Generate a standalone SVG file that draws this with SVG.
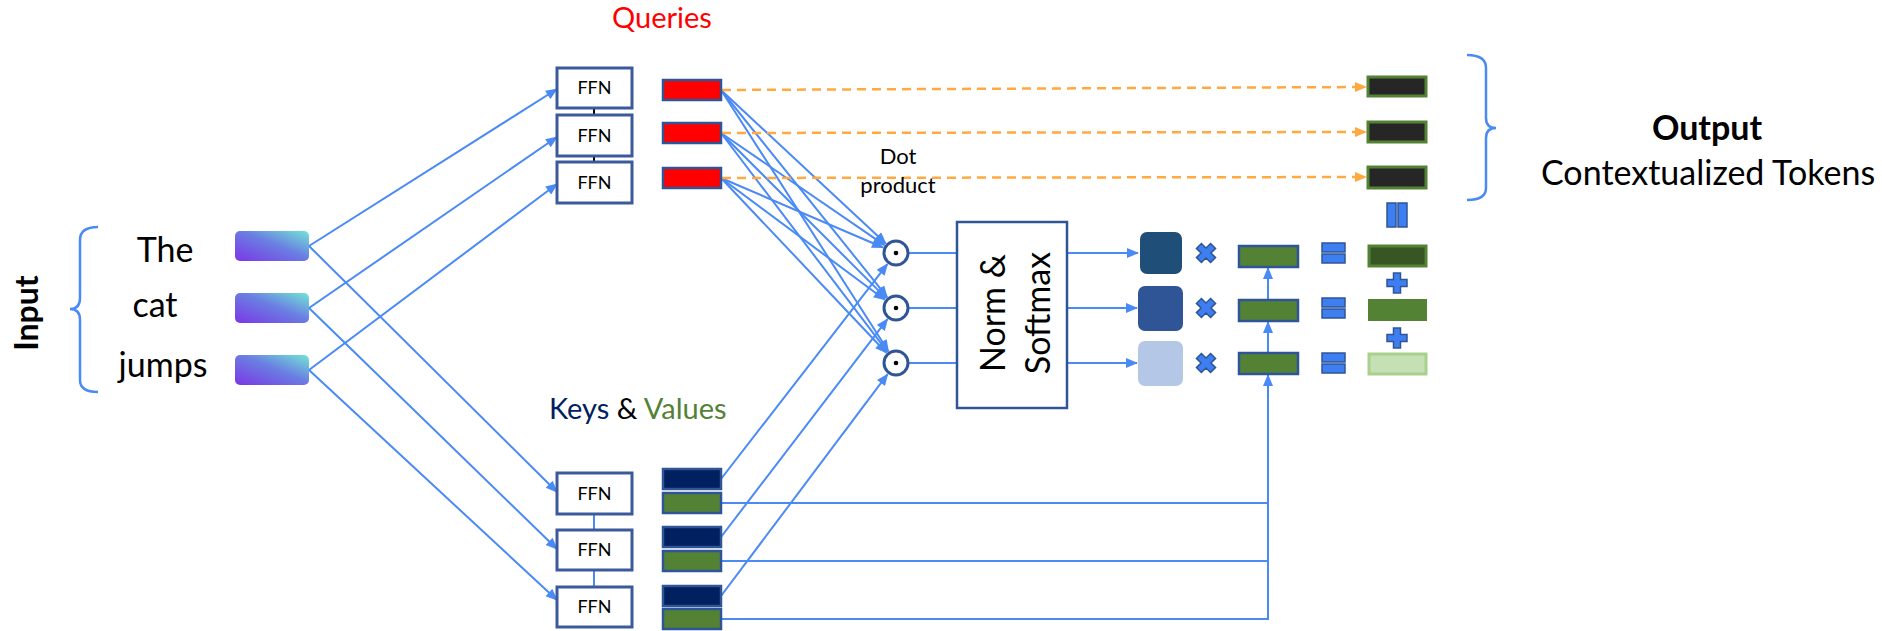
<svg xmlns="http://www.w3.org/2000/svg" width="1882" height="631" viewBox="0 0 1882 631">
<style>
text{font-family:Lato,"Liberation Sans",sans-serif;fill:#000}
.ln{stroke:#4a8af4;stroke-width:2;fill:none}
.arr{marker-end:url(#ah)}
.dash{stroke:#ffa940;stroke-width:2.5;stroke-dasharray:9 6;fill:none;marker-end:url(#ao)}
.ffn{fill:#fff;stroke:#3a5a9c;stroke-width:3}
.ffnt{font-size:18px;text-anchor:middle}
.q{fill:#ff0000;stroke:#2f5597;stroke-width:2.5}
.k{fill:#002060;stroke:#2f5597;stroke-width:2.5}
.v{fill:#548235;stroke:#2f5597;stroke-width:2.5}
.tok{fill:url(#tg)}
.circ{fill:#fff;stroke:#2f5597;stroke-width:3}
.sym{fill:#3d7ff0;stroke:#2f5597;stroke-width:1.5}
.out{fill:#262626;stroke:#548235;stroke-width:3}
.brace{stroke:#4a8af4;stroke-width:2.5;fill:none}
.word{font-size:34px;text-anchor:middle}
</style>
<defs>
<linearGradient id="tg" x1="0" y1="1" x2="1" y2="0">
<stop offset="0" stop-color="#7b36e6"/>
<stop offset="0.55" stop-color="#6a7fe2"/>
<stop offset="1" stop-color="#72e6d6"/>
</linearGradient>
<linearGradient id="lgL" x1="0" y1="0" x2="1" y2="0">
<stop offset="0" stop-color="#4a8af4" stop-opacity="0.4"/>
<stop offset="1" stop-color="#4a8af4"/>
</linearGradient>
<linearGradient id="lgR" x1="0" y1="0" x2="1" y2="0">
<stop offset="0" stop-color="#4a8af4"/>
<stop offset="1" stop-color="#4a8af4" stop-opacity="0"/>
</linearGradient>
<marker id="ah" viewBox="0 0 12 10" markerWidth="13" markerHeight="10" refX="11" refY="5" orient="auto" markerUnits="userSpaceOnUse">
<path d="M0,0 L12,5 L0,10 z" fill="#4a8af4"/>
</marker>
<marker id="ao" viewBox="0 0 12 10" markerWidth="13" markerHeight="10" refX="11" refY="5" orient="auto" markerUnits="userSpaceOnUse">
<path d="M0,0 L12,5 L0,10 z" fill="#ffa940"/>
</marker>
</defs>

<g id="connectors">
<line class="ln arr" x1="309" y1="246" x2="557" y2="89"/>
<line class="ln arr" x1="309" y1="246" x2="557" y2="492"/>
<line class="ln arr" x1="309" y1="308" x2="557" y2="137"/>
<line class="ln arr" x1="309" y1="308" x2="557" y2="549"/>
<line class="ln arr" x1="309" y1="370" x2="557" y2="184"/>
<line class="ln arr" x1="309" y1="370" x2="557" y2="600"/>
<line x1="594" y1="108" x2="594" y2="115" stroke="#000" stroke-width="2"/>
<line x1="594" y1="156" x2="594" y2="162" stroke="#000" stroke-width="2"/>
<line class="ln" x1="594" y1="514" x2="594" y2="530"/>
<line class="ln" x1="594" y1="570" x2="594" y2="587"/>
<line class="ln arr" x1="721" y1="90" x2="885.8" y2="243.5"/>
<line class="ln arr" x1="721" y1="90" x2="887.2" y2="297.1"/>
<line class="ln arr" x1="721" y1="90" x2="888.4" y2="351.2"/>
<line class="ln arr" x1="721" y1="133" x2="884.5" y2="245.1"/>
<line class="ln arr" x1="721" y1="133" x2="886.1" y2="298.1"/>
<line class="ln arr" x1="721" y1="133" x2="887.5" y2="351.9"/>
<line class="ln arr" x1="721" y1="178" x2="883.1" y2="247.5"/>
<line class="ln arr" x1="721" y1="178" x2="884.8" y2="299.7"/>
<line class="ln arr" x1="721" y1="178" x2="886.4" y2="352.8"/>
<line class="ln arr" x1="721" y1="479" x2="887.4" y2="264.1"/>
<line class="ln arr" x1="721" y1="537" x2="887.5" y2="319.1"/>
<line class="ln arr" x1="721" y1="596" x2="887.6" y2="374.2"/>
<line class="ln" x1="909" y1="253" x2="957" y2="253"/>
<line class="ln" x1="909" y1="308" x2="957" y2="308"/>
<line class="ln" x1="909" y1="363" x2="957" y2="363"/>
<line class="ln arr" x1="1068" y1="253" x2="1138" y2="253"/>
<line class="ln arr" x1="1068" y1="308" x2="1137" y2="308"/>
<line class="ln arr" x1="1068" y1="363" x2="1137" y2="363"/>
<polyline class="ln" points="721,503 1268,503"/>
<polyline class="ln" points="721,561 1268,561"/>
<polyline class="ln arr" points="721,619 1268,619 1268,375"/>
<line class="ln arr" x1="1268" y1="353" x2="1268" y2="322"/>
<line class="ln arr" x1="1268" y1="299" x2="1268" y2="268"/>
<line class="dash" x1="722" y1="90" x2="1366" y2="87"/>
<line class="dash" x1="722" y1="133" x2="1366" y2="132"/>
<line class="dash" x1="722" y1="178" x2="1366" y2="177"/>
</g>

<g id="input-brace">
<path class="brace" d="M98,227 Q80,227 80,240 L80,298 Q80,309 70,309 Q80,309 80,320 L80,380 Q80,392 98,392"/>
<line x1="0" y1="309" x2="72" y2="309" stroke="url(#lgL)" stroke-width="2.5"/>
<text transform="translate(38,313) rotate(-90)" text-anchor="middle" font-size="32" font-weight="bold">Input</text>
</g>

<g id="token-the">
<rect class="tok" x="235" y="231" width="74" height="30" rx="5"/>
<text class="word" x="165" y="262">The</text>
</g>
<g id="token-cat">
<rect class="tok" x="235" y="293" width="74" height="30" rx="5"/>
<text class="word" x="155" y="317">cat</text>
</g>
<g id="token-jumps">
<rect class="tok" x="235" y="355" width="74" height="30" rx="5"/>
<text class="word" x="163" y="377">jumps</text>
</g>

<g id="ffn-q1"><rect class="ffn" x="557" y="68" width="75" height="40"/><text class="ffnt" x="594.5" y="94">FFN</text></g>
<g id="ffn-q2"><rect class="ffn" x="557" y="115" width="75" height="41"/><text class="ffnt" x="594.5" y="142">FFN</text></g>
<g id="ffn-q3"><rect class="ffn" x="557" y="162" width="75" height="41"/><text class="ffnt" x="594.5" y="189">FFN</text></g>
<g id="ffn-kv1"><rect class="ffn" x="557" y="473" width="75" height="41"/><text class="ffnt" x="594.5" y="500">FFN</text></g>
<g id="ffn-kv2"><rect class="ffn" x="557" y="530" width="75" height="40"/><text class="ffnt" x="594.5" y="556">FFN</text></g>
<g id="ffn-kv3"><rect class="ffn" x="557" y="587" width="75" height="40"/><text class="ffnt" x="594.5" y="613">FFN</text></g>

<g id="queries">
<text x="662" y="28" font-size="29" text-anchor="middle" style="fill:#ff0000">Queries</text>
<rect class="q" x="663" y="80" width="58" height="20"/>
<rect class="q" x="663" y="123" width="58" height="20"/>
<rect class="q" x="663" y="168" width="58" height="20"/>
</g>

<g id="keys-values">
<text x="549" y="419" font-size="29"><tspan style="fill:#002060">Keys</tspan> &amp; <tspan style="fill:#548235">Values</tspan></text>
<rect class="k" x="663" y="469" width="58" height="20"/>
<rect class="v" x="663" y="493" width="58" height="20"/>
<rect class="k" x="663" y="527" width="58" height="20"/>
<rect class="v" x="663" y="551" width="58" height="20"/>
<rect class="k" x="663" y="586" width="58" height="20"/>
<rect class="v" x="663" y="609" width="58" height="20"/>
</g>

<g id="dot-label">
<text x="898" y="164" font-size="22" text-anchor="middle">Dot</text>
<text x="898" y="193" font-size="22" text-anchor="middle">product</text>
</g>

<g id="dot1"><circle class="circ" cx="896" cy="253" r="12"/><circle cx="896" cy="253" r="2.3" fill="#000"/></g>
<g id="dot2"><circle class="circ" cx="896" cy="308" r="12"/><circle cx="896" cy="308" r="2.3" fill="#000"/></g>
<g id="dot3"><circle class="circ" cx="896" cy="363" r="12"/><circle cx="896" cy="363" r="2.3" fill="#000"/></g>

<g id="norm-softmax">
<rect x="957" y="222" width="110" height="186" fill="#fff" stroke="#2f5597" stroke-width="2.5"/>
<g transform="translate(1012,313) rotate(-90)">
<text x="0" y="-7" font-size="34" text-anchor="middle">Norm &amp;</text>
<text x="0" y="38" font-size="34" text-anchor="middle">Softmax</text>
</g>
</g>

<g id="weights">
<rect x="1140" y="232" width="42" height="42" rx="7" fill="#1f4e79"/>
<rect x="1138" y="286" width="45" height="45" rx="7" fill="#2f5597"/>
<rect x="1138" y="341" width="45" height="45" rx="7" fill="#b4c7e7"/>
</g>

<g id="times">
<path class="sym" transform="translate(1206,253) rotate(45)" d="M-3.5,-10 H3.5 V-3.5 H10 V3.5 H3.5 V10 H-3.5 V3.5 H-10 V-3.5 H-3.5 Z"/>
<path class="sym" transform="translate(1206,308) rotate(45)" d="M-3.5,-10 H3.5 V-3.5 H10 V3.5 H3.5 V10 H-3.5 V3.5 H-10 V-3.5 H-3.5 Z"/>
<path class="sym" transform="translate(1206,363) rotate(45)" d="M-3.5,-10 H3.5 V-3.5 H10 V3.5 H3.5 V10 H-3.5 V3.5 H-10 V-3.5 H-3.5 Z"/>
</g>

<g id="values-copy">
<rect class="v" x="1239" y="246" width="59" height="21"/>
<rect class="v" x="1239" y="300" width="59" height="21"/>
<rect class="v" x="1239" y="353" width="59" height="21"/>
</g>

<g id="equals">
<rect class="sym" x="1322" y="243" width="23" height="9"/><rect class="sym" x="1322" y="254" width="23" height="9"/>
<rect class="sym" x="1322" y="298" width="23" height="9"/><rect class="sym" x="1322" y="309" width="23" height="9"/>
<rect class="sym" x="1322" y="353" width="23" height="9"/><rect class="sym" x="1322" y="364" width="23" height="9"/>
</g>

<g id="results">
<rect x="1369" y="246" width="57" height="20" fill="#375623" stroke="#548235" stroke-width="3"/>
<rect x="1368" y="299" width="59" height="22" fill="#548235"/>
<rect x="1369" y="354" width="57" height="20" fill="#c5e0b4" stroke="#a9d18e" stroke-width="3"/>
<path class="sym" transform="translate(1397,283)" d="M-3.5,-10 H3.5 V-3.5 H10 V3.5 H3.5 V10 H-3.5 V3.5 H-10 V-3.5 H-3.5 Z"/>
<path class="sym" transform="translate(1397,338)" d="M-3.5,-10 H3.5 V-3.5 H10 V3.5 H3.5 V10 H-3.5 V3.5 H-10 V-3.5 H-3.5 Z"/>
<rect class="sym" x="1387" y="203" width="9" height="24"/><rect class="sym" x="1398" y="203" width="9" height="24"/>
</g>

<g id="outputs">
<rect class="out" x="1368" y="77" width="58" height="19"/>
<rect class="out" x="1368" y="122" width="58" height="20"/>
<rect class="out" x="1368" y="167" width="58" height="21"/>
</g>

<g id="output-brace">
<path class="brace" d="M1467,55 Q1486,55 1486,68 L1486,118 Q1486,128 1496,128 Q1486,128 1486,138 L1486,188 Q1486,200 1467,200"/>
<line x1="1495" y1="128" x2="1592" y2="128" stroke="url(#lgR)" stroke-width="2.5"/>
<text x="1707" y="140" font-size="34" font-weight="bold" text-anchor="middle">Output</text>
<text x="1541" y="185" font-size="34">Contextualized Tokens</text>
</g>
</svg>
